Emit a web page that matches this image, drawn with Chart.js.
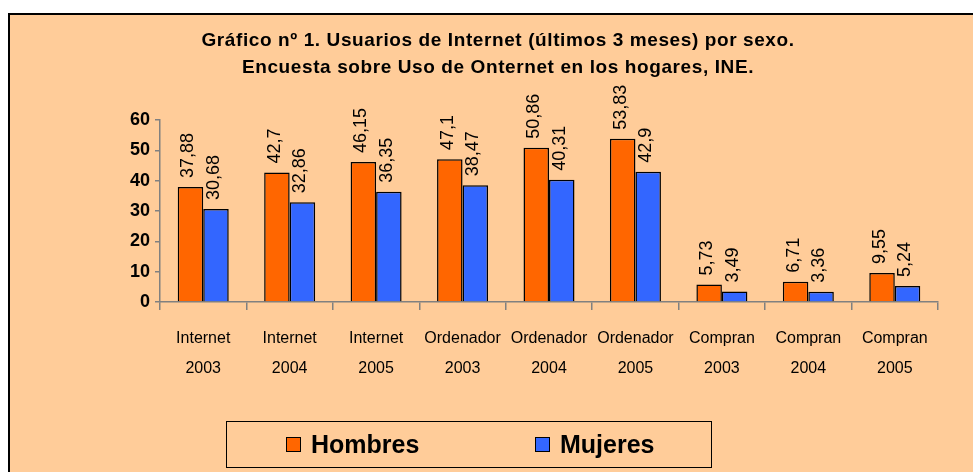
<!DOCTYPE html>
<html>
<head>
<meta charset="utf-8">
<script src="https://cdn.jsdelivr.net/npm/chart.js@4.4.0/dist/chart.umd.min.js"></script>
<style>
  body { margin: 0; background: #fff; width: 973px; height: 472px; overflow: hidden; position: relative; font-family: 'Liberation Sans', Arial, sans-serif; }
  #frame { position: absolute; left: 8px; top: 13px; width: 990px; height: 480px; background: #FFCC99; border-left: 2px solid #000; border-top: 2px solid #000; }
  #wrap { position: absolute; left: 10px; top: 15px; width: 963px; height: 457px; }
  #legend { position: absolute; left: 226px; top: 421px; width: 486px; height: 47px; border: 1.5px solid #000; box-sizing: border-box; }
  .item { position: absolute; top: 0; height: 100%; display: flex; align-items: center; font-weight: bold; font-size: 25px; color: #000; }
  .swatch { width: 13px; height: 13px; border: 1.5px solid #000; margin-right: 10px; }
</style>
</head>
<body>
<div id="frame"></div>
<div id="wrap"><canvas id="chart"></canvas></div>
<div id="legend">
  <div class="item" style="left:59px"><span class="swatch" style="background:#FF6600"></span>Hombres</div>
  <div class="item" style="left:308px"><span class="swatch" style="background:#3366FF"></span>Mujeres</div>
</div>
<script>
const titleLines = ['Gráfico nº 1. Usuarios de Internet (últimos 3 meses) por sexo.',
                    'Encuesta sobre Uso de Onternet en los hogares, INE.'];
const categories = [
  ['Internet', '2003'], ['Internet', '2004'], ['Internet', '2005'],
  ['Ordenador', '2003'], ['Ordenador', '2004'], ['Ordenador', '2005'],
  ['Compran', '2003'], ['Compran', '2004'], ['Compran', '2005']
];
const hombres = [37.88, 42.7, 46.15, 47.1, 50.86, 53.83, 5.73, 6.71, 9.55];
const mujeres = [30.68, 32.86, 36.35, 38.47, 40.31, 42.9, 3.49, 3.36, 5.24];
const yTicks = [0, 10, 20, 30, 40, 50, 60];

// title drawn by hand so it can get the slight letter spacing of the original
const spacedTitle = {
  id: 'spacedTitle',
  afterDraw(chart) {
    const ctx = chart.ctx;
    ctx.save();
    ctx.font = 'bold 19px "Liberation Sans", Arial, sans-serif';
    ctx.letterSpacing = '0.6px';
    ctx.fillStyle = '#000';
    ctx.textAlign = 'center';
    ctx.textBaseline = 'middle';
    const cx = (chart.chartArea.left + chart.chartArea.right) / 2 - 51;
    titleLines.forEach((t, i) => ctx.fillText(t, cx, 26 + i * 27));
    ctx.restore();
  }
};

// rotated value labels above each bar, comma decimals
const valueLabels = {
  id: 'valueLabels',
  afterDatasetsDraw(chart) {
    const ctx = chart.ctx;
    ctx.save();
    ctx.font = '18px "Liberation Sans", Arial, sans-serif';
    ctx.fillStyle = '#000';
    ctx.textAlign = 'left';
    ctx.textBaseline = 'middle';
    chart.data.datasets.forEach((ds, i) => {
      chart.getDatasetMeta(i).data.forEach((bar, j) => {
        const txt = String(ds.data[j]).replace('.', ',');
        ctx.save();
        ctx.translate(bar.x - 2, bar.y - 9);
        ctx.rotate(-Math.PI / 2);
        ctx.fillText(txt, 0, 0);
        ctx.restore();
      });
    });
    ctx.restore();
  }
};

new Chart(document.getElementById('chart'), {
  type: 'bar',
  data: {
    labels: categories,
    datasets: [
      { label: 'Hombres', data: hombres, backgroundColor: '#FF6600', borderColor: '#000', borderWidth: 1.5 },
      { label: 'Mujeres', data: mujeres, backgroundColor: '#3366FF', borderColor: '#000', borderWidth: 1.5 }
    ]
  },
  options: {
    responsive: true,
    maintainAspectRatio: false,
    animation: false,
    categoryPercentage: 0.59,
    barPercentage: 1.0,
    layout: { padding: { left: 48, right: 35, top: 105, bottom: 90 } },
    plugins: {
      legend: { display: false },
      tooltip: { enabled: false },
      title: { display: false }
    },
    scales: {
      x: {
        afterFit: s => { s.height = 80; },
        border: { color: '#808080', width: 1.5 },
        grid: { display: true, drawOnChartArea: false, offset: true, tickLength: 8, color: '#808080', lineWidth: 1.5 },
        ticks: {
          color: '#000',
          padding: 14,
          maxRotation: 0,
          autoSkip: false,
          font: { family: '"Liberation Sans Narrow", "Arial Narrow", "Liberation Sans", sans-serif', size: 16, lineHeight: 1.875 }
        }
      },
      y: {
        min: 0,
        max: 60,
        afterFit: s => { s.width = 102; },
        afterBuildTicks: s => { s.ticks = yTicks.map(v => ({ value: v })); },
        border: { color: '#808080', width: 1.5 },
        grid: { display: true, drawOnChartArea: false, tickLength: 5, color: '#808080', lineWidth: 1.5 },
        ticks: {
          color: '#000',
          padding: 5,
          font: { family: '"Liberation Sans", Arial, sans-serif', size: 18, weight: 'bold' }
        }
      }
    }
  },
  plugins: [valueLabels, spacedTitle]
});
</script>
</body>
</html>
